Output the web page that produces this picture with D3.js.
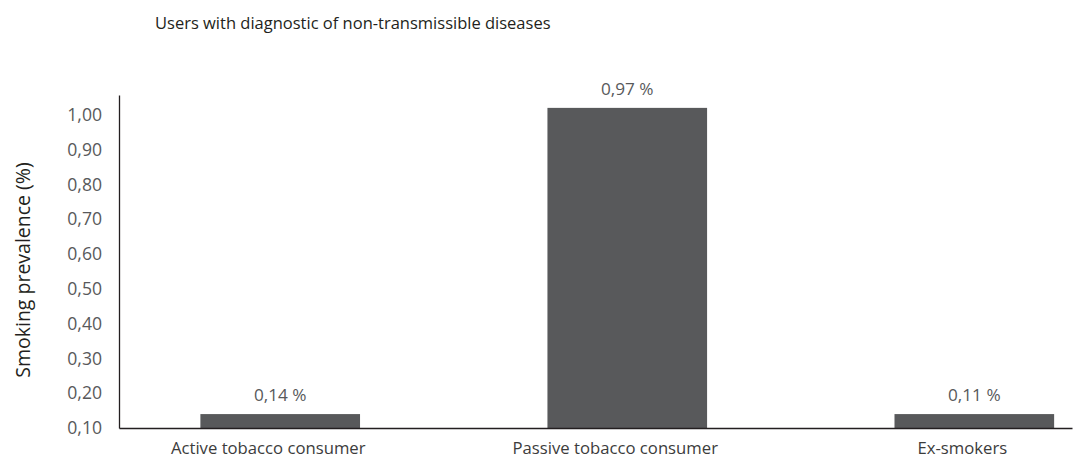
<!DOCTYPE html>
<html>
<head>
<meta charset="utf-8">
<script src="https://cdn.jsdelivr.net/npm/d3@7"></script>
<style>
  body { margin: 0; background: #fff; }
  svg { display: block; font-family: "Open Sans", "Noto Sans", sans-serif; }
</style>
</head>
<body>
<svg id="chart" width="1077" height="458"></svg>
<script>
// Données
const categories = ['Active tobacco consumer', 'Passive tobacco consumer', 'Ex-smokers']
const barValues = [0.14, 1.02, 0.14]          // hauteur dessinée des barres
const barLabels = ['0,14 %', '0,97 %', '0,11 %'] // étiquettes affichées
const yTicks = [0.10, 0.20, 0.30, 0.40, 0.50, 0.60, 0.70, 0.80, 0.90, 1.00]

const title = 'Users with diagnostic of non-transmissible diseases'
const yTitle = 'Smoking prevalence (%)'

//Constantes de mise en page
const plotLeft = 119
const plotRight = 1072
const plotBottom = 428
const plotTop = 95
const catLabelShift = -12 //les étiquettes de catégorie sont décalées vers la gauche

const svg = d3.select('#chart')
const fmt = d3.formatLocale({ decimal: ',', thousands: '.', grouping: [3], currency: ['', ''] }).format('.2f')

const x = d3.scaleBand()
  .domain(categories)
  .range([plotLeft, plotRight])
  .paddingInner(0.54)
  .paddingOuter(0.143)
  .align(0.82)

const y = d3.scaleLinear()
  .domain([0.10, 1.057])
  .range([plotBottom, plotTop])

//Titre
svg.append('text')
  .attr('x', 155)
  .attr('y', 29)
  .attr('font-size', 16.5)
  .attr('fill', '#231f20')
  .text(title)

//Barres
svg.append('g')
  .selectAll('rect')
  .data(categories)
  .enter()
  .append('rect')
  .attr('x', d => x(d))
  .attr('y', (d, i) => y(barValues[i]))
  .attr('width', x.bandwidth())
  .attr('height', (d, i) => y(0.10) - y(barValues[i]))
  .attr('fill', '#58595b')

//Étiquettes de valeur
svg.append('g')
  .selectAll('text')
  .data(categories)
  .enter()
  .append('text')
  .attr('x', d => x(d) + x.bandwidth() / 2)
  .attr('y', (d, i) => y(barValues[i]) - 13)
  .attr('text-anchor', 'middle')
  .attr('font-size', 17.2)
  .attr('fill', '#58595b')
  .text((d, i) => barLabels[i])

//Axe Y
const yAxis = svg.append('g')
  .attr('transform', 'translate(' + plotLeft + ',0)')
  .call(d3.axisLeft(y).tickValues(yTicks).tickFormat(fmt).tickSize(0).tickPadding(17))
yAxis.select('.domain').attr('stroke', '#231f20').attr('stroke-width', 1.3)
yAxis.selectAll('text')
  .attr('font-family', '"Open Sans", "Noto Sans", sans-serif')
  .attr('font-size', 17.6)
  .attr('fill', '#58595b')

//Axe X
const xAxis = svg.append('g')
  .attr('transform', 'translate(0,' + plotBottom + ')')
  .call(d3.axisBottom(x).tickSize(0).tickPadding(14))
xAxis.select('.domain').attr('stroke', '#231f20').attr('stroke-width', 1.3)
xAxis.selectAll('text')
  .attr('font-family', '"Open Sans", "Noto Sans", sans-serif')
  .attr('font-size', 16.7)
  .attr('fill', '#3c3c3c')
  .attr('dx', catLabelShift)

//Titre de l'axe Y
svg.append('text')
  .attr('transform', 'translate(30,' + 270 + ') rotate(-90)')
  .attr('text-anchor', 'middle')
  .attr('font-size', 19.5)
  .attr('fill', '#231f20')
  .text(yTitle)
</script>
</body>
</html>
